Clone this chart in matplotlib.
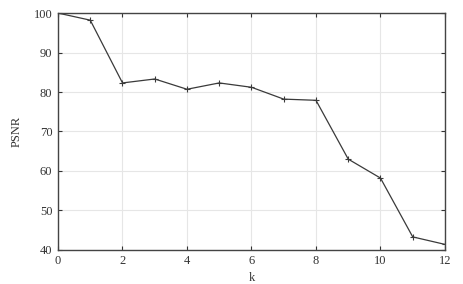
import matplotlib
matplotlib.use('Agg')
import matplotlib.pyplot as plt
import numpy as np

plt.rcParams['font.family'] = ['Liberation Serif', 'DejaVu Serif']
plt.rcParams['font.size'] = 9

# data
k = [0, 1, 2, 3, 4, 5, 6, 7, 8, 9, 10, 11, 12]
psnr = [100, 98.2, 82.3, 83.3, 80.7, 82.3, 81.2, 78.2, 77.9, 63.0, 58.2, 43.3, 41.4]

fig = plt.figure(figsize=(4.64, 2.84), dpi=100)
ax = fig.add_axes([0.125, 0.12, 0.834, 0.834])

ax.plot(k, psnr, '-', color='#3a3a3a', lw=0.9, marker='+', ms=4, mew=0.8)

ax.set_xlim(0, 12)
ax.set_ylim(40, 100)
ax.set_xticks(np.arange(0, 13, 2))
ax.set_yticks(np.arange(40, 101, 10))
ax.grid(True, color='#e6e6e6', lw=0.8)
ax.set_axisbelow(True)
ax.tick_params(direction='in', top=True, right=True, length=3, width=0.8,
               color='#333333', labelcolor='#333333', pad=4)
for s in ax.spines.values():
    s.set_color('#444444')
    s.set_linewidth(1.0)

ax.set_xlabel('k', color='#333333', labelpad=3)
ax.set_ylabel('PSNR', color='#333333', labelpad=8)

fig.savefig('out.png', dpi=100)
